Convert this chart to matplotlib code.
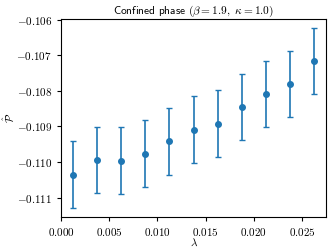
import numpy as np
import matplotlib
matplotlib.use("Agg")
import matplotlib.pyplot as plt

plt.rcParams["mathtext.fontset"] = "cm"
plt.rcParams["axes.formatter.use_mathtext"] = True
plt.rcParams["font.size"] = 8

lam = [0.00125, 0.00375, 0.00625, 0.00875, 0.01125, 0.01375,
       0.01625, 0.01875, 0.02125, 0.02375, 0.02625]
p_hat = [-0.110355, -0.109952, -0.109963, -0.109767, -0.109419, -0.109094,
         -0.108926, -0.108450, -0.108085, -0.107813, -0.107169]
p_err = [0.000939, 0.000935, 0.000939, 0.000939, 0.000935, 0.000939,
         0.000935, 0.000929, 0.000925, 0.000935, 0.000933]

fig = plt.figure(figsize=(3.32, 2.52), dpi=100)
ax = fig.add_axes([0.184, 0.139, 0.798, 0.786])
ax.errorbar(lam, p_hat, yerr=p_err, fmt="o", color="C0", markersize=4,
            capsize=2.5, elinewidth=1.2)
ax.set_xlabel(r"$\lambda$")
ax.set_ylabel(r"$\hat{\mathcal{P}}$")
ax.xaxis.set_label_coords(0.5, -0.10)
ax.yaxis.set_label_coords(-0.17, 0.5)
ax.set_title(r"$\mathsf{Confined\ phase}\ (\beta = 1.9,\ \kappa = 1.0)$",
             fontsize=8.2, pad=3)
ax.tick_params(length=3)
ax.xaxis.set_major_formatter(matplotlib.ticker.FormatStrFormatter(r"$%.3f$"))
ax.yaxis.set_major_formatter(matplotlib.ticker.FormatStrFormatter(r"$%.3f$"))
fig.savefig("out.png", dpi=100)
